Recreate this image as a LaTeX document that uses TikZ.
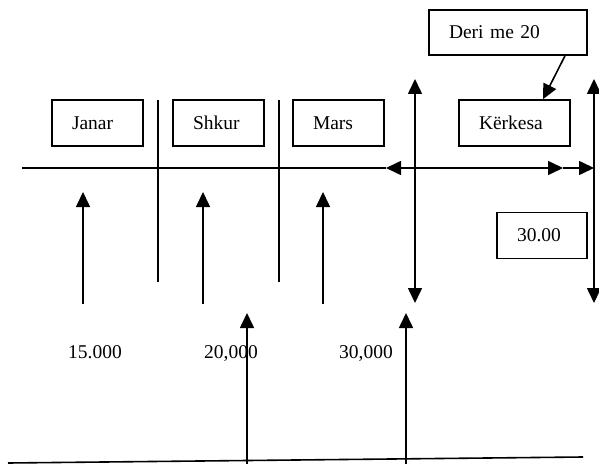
\documentclass[tikz,border=0pt]{standalone}
\usepackage{fontspec}
\setmainfont{Liberation Serif}
\usetikzlibrary{positioning}
\usetikzlibrary{arrows.meta}

\tikzset{
    box/.style = {draw, inner xsep = 20pt, inner ysep = 0pt, align = left, minimum height = 46pt},
    tip/.style = {-{Triangle[length = 15pt, width = 14pt]}},
    tips/.style = {{Triangle[length = 15pt, width = 14pt]}-{Triangle[length = 15pt, width = 14pt]}}
}

\begin{document}
\begin{tikzpicture}[x = 1pt, y = -1pt, black, line width = 1.6pt, font = \fontsize{19.5}{23}\selectfont]

    \useasboundingbox (0,0) rectangle (599,465);

    \node (Janar) at (97.5,123) [box, text width = 51pt] {Janar};
    \node (Shkur) at (218.5,123) [box, text width = 51pt] {Shkur};
    \node (Mars) at (338.5,123) [box, text width = 51pt] {Mars};
    \node (Kerkesa) at (514.5,123) [box, text width = 71pt] {Kërkesa};
    \node (Deri) at (508,32.5) [box, text width = 118pt, minimum height = 45pt] {Deri me 20};
    \node (Tridhjete) at (542,235.5) [box, text width = 50pt] {30.00};

    \node (L1) at (95,358.5) [anchor = base] {15.000};
    \node (L2) at (231,358.5) [anchor = base] {20,000};
    \node (L3) at (366,358.5) [anchor = base] {30,000};

    \coordinate (H0) at (22,168);
    \coordinate (H1) at (386,168);
    \coordinate (H2) at (563,168);
    \coordinate (H3) at (594,168);

    \coordinate (S1t) at (158,100);
    \coordinate (S1b) at (158,282);
    \coordinate (S2t) at (279,100);
    \coordinate (S2b) at (279,282);

    \coordinate (A1b) at (83,304);
    \coordinate (A1t) at (83,192);
    \coordinate (A2b) at (203,304);
    \coordinate (A2t) at (203,192);
    \coordinate (A3b) at (323,304);
    \coordinate (A3t) at (323,192);

    \coordinate (V1t) at (415,79);
    \coordinate (V1b) at (415,303);
    \coordinate (V2t) at (594,79);
    \coordinate (V2b) at (594,303);

    \coordinate (B0) at (8,463);
    \coordinate (B1) at (583,457);
    \coordinate (U1b) at (247,464);
    \coordinate (U1t) at (247,313);
    \coordinate (U2b) at (406,464);
    \coordinate (U2t) at (406,313);


    \draw (H0) -- (H1);
    \draw[tips] (H1) -- (H2);
    \draw[tip] (H2) -- (H3);

    \draw (S1t) -- (S1b);
    \draw (S2t) -- (S2b);

    \draw[tip] (A1b) -- (A1t);
    \draw[tip] (A2b) -- (A2t);
    \draw[tip] (A3b) -- (A3t);

    \draw[tips] (V1t) -- (V1b);
    \draw[tips] (V2t) -- (V2b);

    \draw (B0) -- (B1);
    \draw[tip] (U1b) -- (U1t);
    \draw[tip] (U2b) -- (U2t);

    \draw[tip] ([xshift = 57pt]Deri.south) -- ([xshift = 28.5pt]Kerkesa.north);

\end{tikzpicture}
\end{document}
